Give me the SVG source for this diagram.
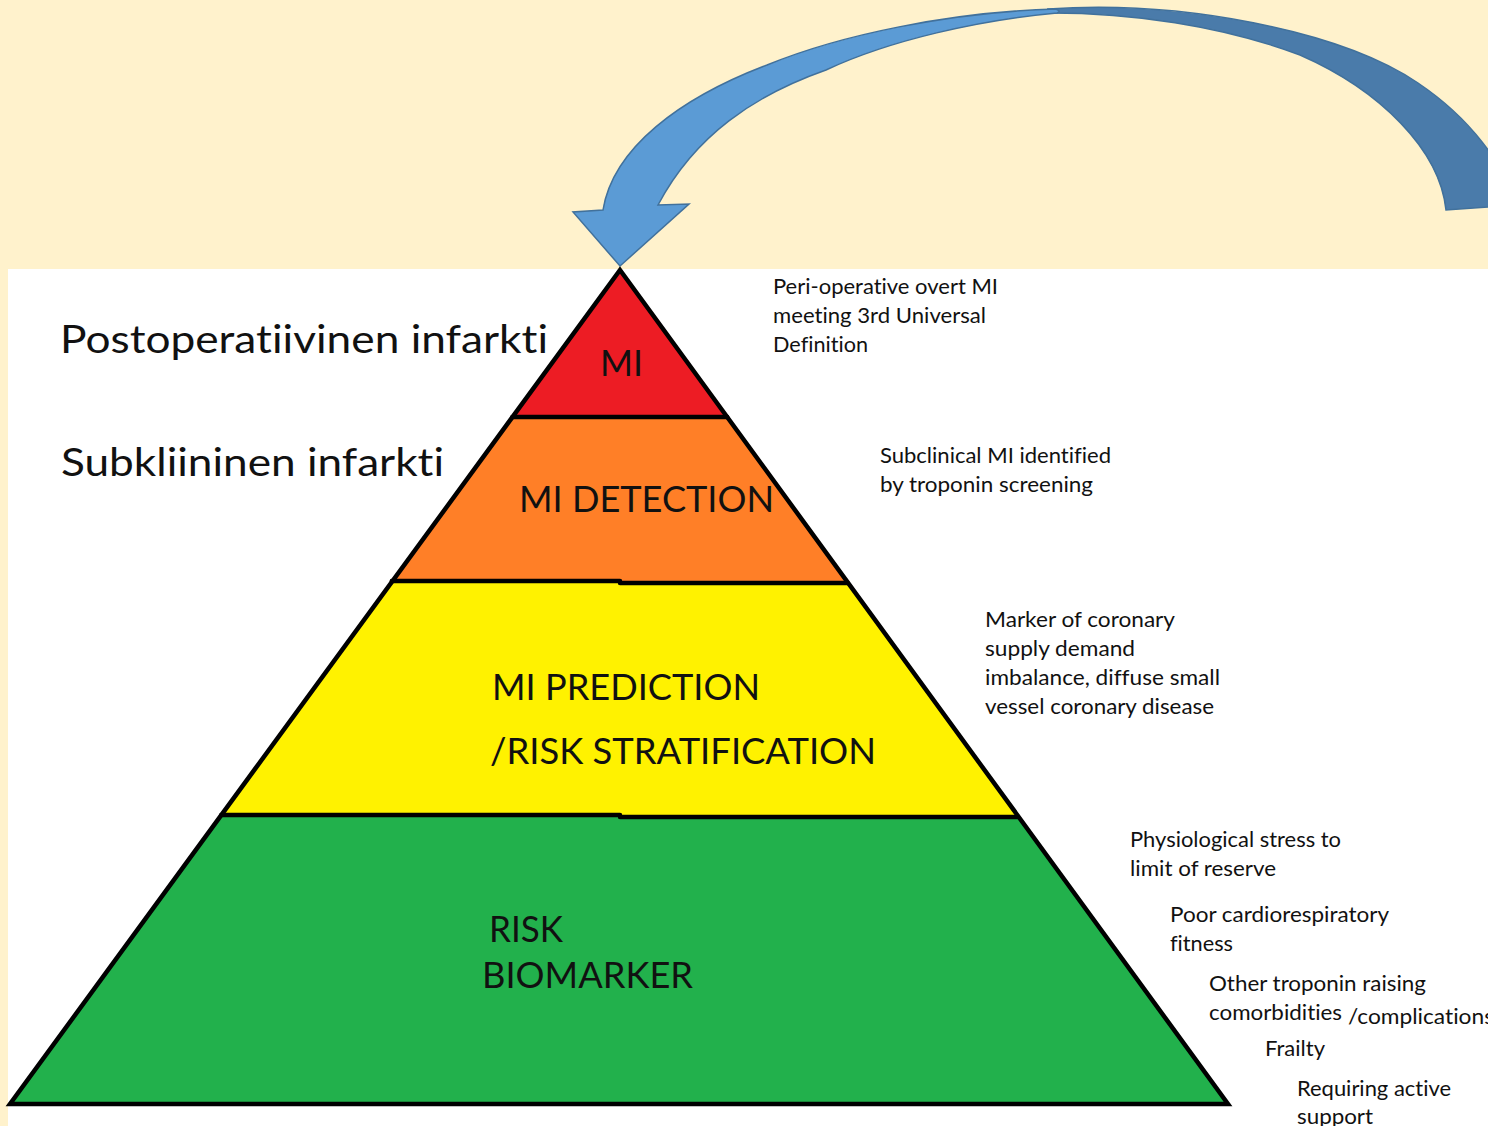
<svg xmlns="http://www.w3.org/2000/svg" width="1488" height="1126" viewBox="0 0 1488 1126">
  <style>
    .lbl { font-family: Lato, "Open Sans", "Liberation Sans", sans-serif; fill: #111; font-variant-ligatures: none; }
    .big { font-size: 39px; }
    .tier { font-size: 36px; }
    .note { font-size: 21px; }
    .edge { stroke: #000; stroke-width: 4.5; fill: none; stroke-linecap: round; stroke-linejoin: miter; }
    .arrow { stroke: #41719C; stroke-width: 1.5; stroke-linejoin: miter; }
  </style>

  <!-- page background and white panel -->
  <rect x="0" y="0" width="1488" height="1126" fill="#FFF2CC"/>
  <rect x="8" y="269" width="1480" height="857" fill="#FFFFFF"/>

  <!-- curved feedback arrow -->
  <g id="connectors">
    <path class="arrow" fill="#4A7BAA"
          d="M1048,9 C1180,0 1340,30 1418,83 C1470,118 1505,165 1515,205 L1446,210
             C1440,150 1380,90 1300,55 C1220,25 1130,13 1050,13 Z"/>
    <path class="arrow" fill="#5B9BD5"
          d="M603,210 C613,148 680,98 767,65 C840,35 950,12 1056,9
             C1060,11 1060,12 1057,13 C980,20 890,40 826,70
             C755,95 695,135 658,205 L689,204 L620,266 L573,212 Z"/>
  </g>

  <!-- left-hand labels -->
  <g id="label-postop">
    <text class="lbl big" x="60" y="353" textLength="488" lengthAdjust="spacingAndGlyphs">Postoperatiivinen infarkti</text>
  </g>
  <g id="label-subclinical">
    <text class="lbl big" x="61" y="476" textLength="383" lengthAdjust="spacingAndGlyphs">Subkliininen infarkti</text>
  </g>

  <!-- pyramid tiers -->
  <g id="tier-risk-biomarker">
    <polygon points="221.3,815 1017.3,815 1228,1104 10,1104" fill="#22B14C"/>
    <text class="lbl tier" x="489" y="942" textLength="74" lengthAdjust="spacingAndGlyphs">RISK</text>
    <text class="lbl tier" x="482" y="988" textLength="211" lengthAdjust="spacingAndGlyphs">BIOMARKER</text>
  </g>
  <g id="tier-prediction">
    <polygon points="391.8,582 847.5,582 1017.3,815 221.3,815" fill="#FFF200"/>
    <text class="lbl tier" x="492" y="700" textLength="268" lengthAdjust="spacingAndGlyphs">MI PREDICTION</text>
    <text class="lbl tier" x="490" y="764" textLength="386" lengthAdjust="spacingAndGlyphs">/RISK STRATIFICATION</text>
  </g>
  <g id="tier-detection">
    <polygon points="512.4,417 727.2,417 847.5,582 391.8,582" fill="#FF7F27"/>
  </g>
  <g id="tier-mi">
    <polygon points="620,270 727.2,417 512.4,417" fill="#ED1C24"/>
    <text class="lbl tier" x="600" y="376" textLength="43" lengthAdjust="spacingAndGlyphs">MI</text>
  </g>

  <!-- pyramid outline and tier dividers -->
  <g id="pyramid-outline">
    <path class="edge" d="M620,270 L1228,1104 L10,1104 Z"/>
    <path class="edge" d="M512.4,417 L727.2,417"/>
    <path class="edge" d="M391.8,581 L620,581 M620,583 L847.5,583"/>
    <path class="edge" d="M221.3,815 L620,815 M620,817 L1017.3,817"/>
  </g>

  <!-- tier label drawn above the outline (it touches the right edge) -->
  <g id="tier-detection-label">
    <text class="lbl tier" x="519" y="512" textLength="255" lengthAdjust="spacingAndGlyphs">MI DETECTION</text>
  </g>

  <!-- right-hand annotations -->
  <g id="note-overt">
    <text class="lbl note" x="773" y="294" textLength="225" lengthAdjust="spacingAndGlyphs">Peri-operative overt MI</text>
    <text class="lbl note" x="773" y="323" textLength="213" lengthAdjust="spacingAndGlyphs">meeting 3rd Universal</text>
    <text class="lbl note" x="773" y="352" textLength="95" lengthAdjust="spacingAndGlyphs">Definition</text>
  </g>
  <g id="note-subclinical">
    <text class="lbl note" x="880" y="463" textLength="231" lengthAdjust="spacingAndGlyphs">Subclinical MI identified</text>
    <text class="lbl note" x="880" y="492" textLength="213" lengthAdjust="spacingAndGlyphs">by troponin screening</text>
  </g>
  <g id="note-marker">
    <text class="lbl note" x="985" y="627" textLength="190" lengthAdjust="spacingAndGlyphs">Marker of coronary</text>
    <text class="lbl note" x="985" y="656" textLength="150" lengthAdjust="spacingAndGlyphs">supply demand</text>
    <text class="lbl note" x="985" y="685" textLength="235" lengthAdjust="spacingAndGlyphs">imbalance, diffuse small</text>
    <text class="lbl note" x="985" y="714" textLength="229" lengthAdjust="spacingAndGlyphs">vessel coronary disease</text>
  </g>
  <g id="note-stress">
    <text class="lbl note" x="1130" y="847" textLength="211" lengthAdjust="spacingAndGlyphs">Physiological stress to</text>
    <text class="lbl note" x="1130" y="876" textLength="146" lengthAdjust="spacingAndGlyphs">limit of reserve</text>
  </g>
  <g id="note-fitness">
    <text class="lbl note" x="1170" y="922" textLength="219" lengthAdjust="spacingAndGlyphs">Poor cardiorespiratory</text>
    <text class="lbl note" x="1170" y="951" textLength="63" lengthAdjust="spacingAndGlyphs">fitness</text>
  </g>
  <g id="note-comorbidities">
    <text class="lbl note" x="1209" y="991" textLength="217" lengthAdjust="spacingAndGlyphs">Other troponin raising</text>
    <text class="lbl note" x="1209" y="1020" textLength="133" lengthAdjust="spacingAndGlyphs">comorbidities</text>
    <text class="lbl note" x="1348" y="1024" textLength="146" lengthAdjust="spacingAndGlyphs">/complications</text>
  </g>
  <g id="note-frailty">
    <text class="lbl note" x="1265" y="1056" textLength="60" lengthAdjust="spacingAndGlyphs">Frailty</text>
  </g>
  <g id="note-support">
    <text class="lbl note" x="1297" y="1096" textLength="154" lengthAdjust="spacingAndGlyphs">Requiring active</text>
    <text class="lbl note" x="1297" y="1124" textLength="76" lengthAdjust="spacingAndGlyphs">support</text>
  </g>
</svg>
